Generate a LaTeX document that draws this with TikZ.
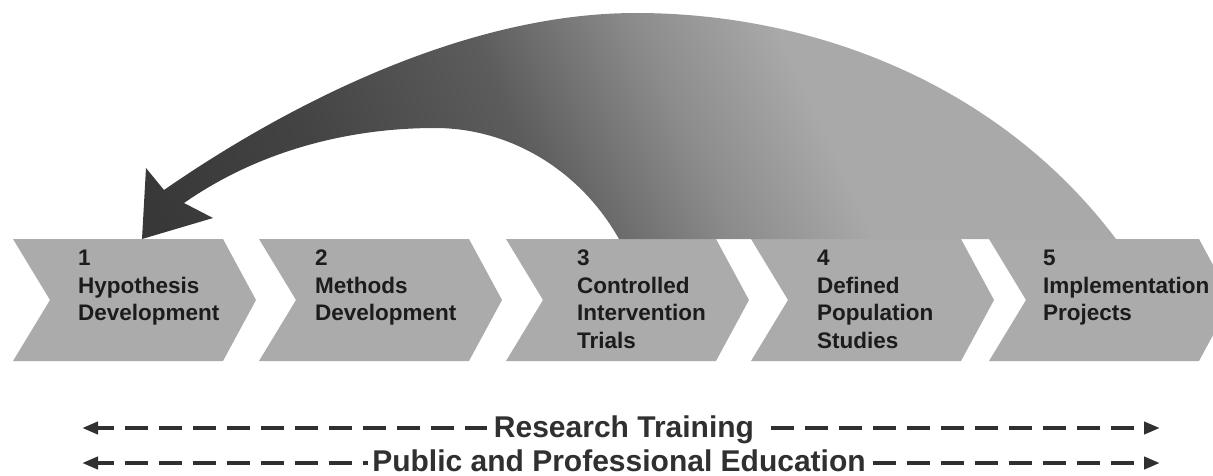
\documentclass[tikz,border=0pt]{standalone}
\usepackage{fontspec}
\setmainfont{Liberation Sans}
\usetikzlibrary{arrows.meta}
\definecolor{chev}{HTML}{ABABAB}
\definecolor{txt}{HTML}{1C1C1C}
\definecolor{dashc}{HTML}{303030}
\definecolor{sa}{HTML}{383838}
\definecolor{sb}{HTML}{434343}
\definecolor{sc}{HTML}{5C5C5C}
\definecolor{sd}{HTML}{8C8C8C}
\definecolor{se}{HTML}{A9A9A9}
\pgfdeclarehorizontalshading{arrowshade}{100bp}{color(0bp)=(sa); color(33bp)=(sa); color(39bp)=(sb); color(46bp)=(sc); color(51.5bp)=(sd); color(56bp)=(se); color(100bp)=(se)}
\tikzset{
  chevbox/.style={fill=chev},
  ctext/.style={anchor=north west, inner sep=0pt, align=left, text=txt,
    font={\fontsize{22.5pt}{27.5pt}\selectfont\bfseries}},
  dashline/.style={line width=4.5pt, draw=dashc, dash pattern=on 23pt off 11pt},
  headline/.style={line width=4.5pt, draw=dashc, fill=dashc,
    -{Triangle[length=16pt,width=12pt]}},
  btext/.style={anchor=base, fill=white, inner xsep=7pt, inner ysep=0pt, text=dashc,
    font={\fontsize{30pt}{33pt}\selectfont\bfseries}}
}
\begin{document}
\begin{tikzpicture}[x=1pt,y=-1pt]
\useasboundingbox (0,0) rectangle (1213,475);
% chevrons
\begin{scope}
\clip (0,0) rectangle (1213,475);
\foreach \xo in {13,259,506,751,989}{
  \fill[chevbox] (\xo,239) -- ++(210,0) -- ++(33,61) -- ++(-33,61) -- ++(-210,0) -- ++(37,-61) -- cycle;
}
\end{scope}
% curved feedback arrow
\begin{scope}
\clip (1116,239) .. controls (1000,85) and (815,13) .. (636,13)
  .. controls (450,13) and (262,122) .. (164,190)
  -- (146,168) -- (142,239) -- (213,218) -- (184,203)
  .. controls (260,150) and (350,128) .. (435,128)
  .. controls (510,128) and (580,170) .. (619,239) -- cycle;
\begin{scope}[transform canvas={rotate around={25:(640,130)}}]
\shade[shading=arrowshade] (-60,-370) rectangle (1340,630);
\end{scope}
\end{scope}
% stage labels
\node[ctext] (c1) at (78,250) {1\\Hypothesis\\Development};
\node[ctext] (c2) at (315,250) {2\\Methods\\Development};
\node[ctext] (c3) at (577,250) {3\\Controlled\\Intervention\\Trials};
\node[ctext] (c4) at (817,250) {4\\Defined\\Population\\Studies};
\node[ctext] (c5) at (1043,250) {5\\Implementation\\Projects};
% bottom lines
\coordinate (rtl) at (82,428);  \coordinate (rtlb) at (98,428);
\coordinate (rts) at (91,428);  \coordinate (rte) at (1134,428);
\coordinate (rtrb) at (1144,428); \coordinate (rtr) at (1160,428);
\coordinate (pel) at (82,463);  \coordinate (pelb) at (98,463);
\coordinate (pes) at (91,463);  \coordinate (pee) at (1134,463);
\coordinate (perb) at (1144,463); \coordinate (per) at (1160,463);
\draw[dashline] (rts) -- (rte);
\draw[headline] (rtlb) -- (rtl);
\draw[headline] (rtrb) -- (rtr);
\draw[dashline] (pes) -- (pee);
\draw[headline] (pelb) -- (pel);
\draw[headline] (perb) -- (per);
\node[btext] (rt) at (624,437) {Research Training};
\node[btext, inner xsep=4pt] (pe) at (619,471) {Public and Professional Education};
\end{tikzpicture}
\end{document}
